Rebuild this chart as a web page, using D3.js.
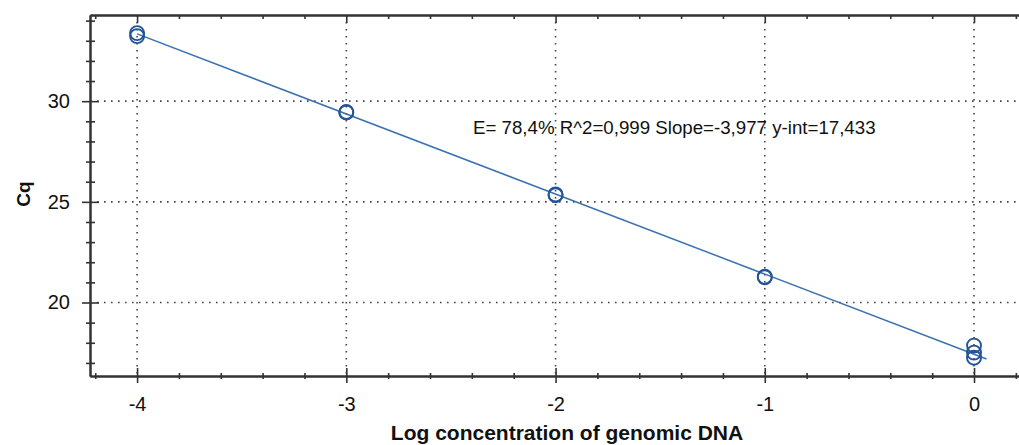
<!DOCTYPE html>
<html lang="en">
<head>
    <meta charset="utf-8">
    <title>Standard curve</title>
    <script type="text/javascript" src="https://d3js.org/d3.v7.min.js"></script>
    <style type="text/css">
        body { margin: 0; background: #fff; }
        svg { display: block; font-family: Arial, "Liberation Sans", sans-serif; }
    </style>
</head>
<body>
<script type="text/javascript">
    // measured points (log conc, Cq)
    var logConc = [-4, -4, -3, -3, -2, -2, -1, -1, 0, 0, 0];
    var cqValues = [33.38, 33.23, 29.46, 29.44, 25.37, 25.33, 21.28, 21.25, 17.86, 17.51, 17.26];

    // regression fit
    var slope = -3.977;
    var yInt = 17.433;
    var fitRange = [-4, 0.06];

    var xMajor = [-4, -3, -2, -1, 0];
    var xMinor = [-4.2, -3.8, -3.6, -3.4, -3.2, -2.8, -2.6, -2.4, -2.2, -1.8, -1.6, -1.4, -1.2, -0.8, -0.6, -0.4, -0.2, 0.2];
    var yMajor = [20, 25, 30];
    var yMinor = [17, 18, 19, 21, 22, 23, 24, 26, 27, 28, 29, 31, 32, 33, 34];

    var label = "E= 78,4% R^2=0,999 Slope=-3,977 y-int=17,433";

    var width = 1019, height = 445;
    var plotLeft = 90, plotRight = 1019, plotTop = 15, plotBottom = 376;

    var svg = d3.select("body").append("svg")
        .attr("width", width)
        .attr("height", height);

    var x = d3.scaleLinear().domain([-4.225, 0.215]).range([plotLeft, plotRight]);
    var y = d3.scaleLinear().domain([16.35, 34.28]).range([plotBottom, plotTop]);

    // dotted grid
    var grid = svg.append("g")
        .attr("stroke", "#444")
        .attr("stroke-width", 1.6)
        .attr("stroke-dasharray", "1.6,5.4");
    grid.selectAll(".vg").data(xMajor).enter().append("line")
        .attr("x1", function(d) { return x(d); })
        .attr("x2", function(d) { return x(d); })
        .attr("y1", plotTop)
        .attr("y2", plotBottom);
    grid.selectAll(".hg").data(yMajor).enter().append("line")
        .attr("x1", plotLeft)
        .attr("x2", plotRight)
        .attr("y1", function(d) { return y(d); })
        .attr("y2", function(d) { return y(d); });

    function styleAxis(g) {
        g.select(".domain").attr("stroke", "#333").attr("stroke-width", 2);
        g.selectAll(".tick line").attr("stroke", "#333").attr("stroke-width", 1.6);
        g.selectAll(".tick text").attr("fill", "#111")
            .style("font-size", "20px")
            .style("font-family", "Arial, 'Liberation Sans', sans-serif");
    }

    var plain = function(d) { return String(d); };

    // left axis, ticks cross the line
    var yMinorG = svg.append("g").attr("transform", "translate(" + plotLeft + ",0)")
        .call(d3.axisLeft(y).tickValues(yMinor).tickSize(4).tickSizeOuter(0).tickFormat(""));
    yMinorG.selectAll(".tick line").attr("x2", 5).attr("x1", -4);
    styleAxis(yMinorG);

    var yAxisG = svg.append("g").attr("transform", "translate(" + plotLeft + ",0)")
        .call(d3.axisLeft(y).tickValues(yMajor).tickSize(8).tickSizeOuter(0).tickPadding(12).tickFormat(plain));
    yAxisG.selectAll(".tick line").attr("x1", -8).attr("x2", 9);
    styleAxis(yAxisG);

    // bottom axis
    var xMinorG = svg.append("g").attr("transform", "translate(0," + plotBottom + ")")
        .call(d3.axisBottom(x).tickValues(xMinor).tickSize(3).tickSizeOuter(0).tickFormat(""));
    xMinorG.selectAll(".tick line").attr("y1", -3).attr("y2", 3);
    styleAxis(xMinorG);

    var xAxisG = svg.append("g").attr("transform", "translate(0," + plotBottom + ")")
        .call(d3.axisBottom(x).tickValues(xMajor).tickSize(7).tickSizeOuter(0).tickPadding(14).tickFormat(plain));
    xAxisG.selectAll(".tick line").attr("y1", -8).attr("y2", 7);
    styleAxis(xAxisG);

    // top axis, ticks inside
    var topMinorG = svg.append("g").attr("transform", "translate(0," + plotTop + ")")
        .call(d3.axisBottom(x).tickValues(xMinor).tickSize(4).tickSizeOuter(0).tickFormat(""));
    styleAxis(topMinorG);
    var topG = svg.append("g").attr("transform", "translate(0," + plotTop + ")")
        .call(d3.axisBottom(x).tickValues(xMajor).tickSize(8).tickSizeOuter(0).tickFormat(""));
    styleAxis(topG);

    // fitted line
    var line = d3.line()
        .x(function(d) { return x(d); })
        .y(function(d) { return y(slope * d + yInt); });
    svg.append("path")
        .datum(fitRange)
        .attr("d", line)
        .attr("fill", "none")
        .attr("stroke", "#3a72b0")
        .attr("stroke-width", 1.5);

    // data points
    svg.append("g").selectAll("circle")
        .data(d3.range(logConc.length))
        .enter().append("circle")
        .attr("cx", function(i) { return x(logConc[i]); })
        .attr("cy", function(i) { return y(cqValues[i]); })
        .attr("r", 7)
        .attr("fill", "none")
        .attr("stroke", "#235597")
        .attr("stroke-width", 1.9);

    // annotation
    svg.append("text")
        .attr("x", 473)
        .attr("y", 134)
        .style("font-size", "18.7px")
        .attr("fill", "#111")
        .text(label);

    // axis titles
    svg.append("text")
        .attr("transform", "translate(30,194) rotate(-90)")
        .attr("text-anchor", "middle")
        .style("font-size", "19px")
        .style("font-weight", "bold")
        .attr("fill", "#111")
        .text("Cq");

    svg.append("text")
        .attr("x", 567)
        .attr("y", 440)
        .attr("text-anchor", "middle")
        .style("font-size", "21px")
        .style("font-weight", "bold")
        .attr("fill", "#111")
        .text("Log concentration of genomic DNA");
</script>
</body>
</html>
